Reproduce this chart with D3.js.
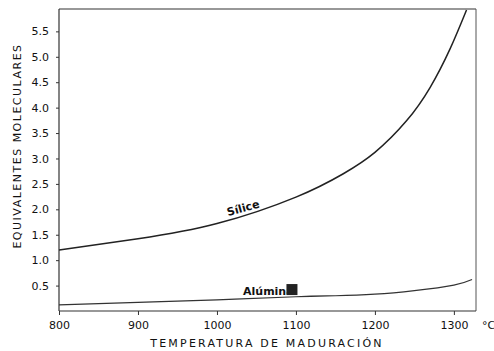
<!DOCTYPE html>
<html>
<head>
<meta charset="utf-8">
<script src="https://cdn.jsdelivr.net/npm/d3@7"></script>
<style>
  body { margin: 0; background: #fff; }
  text { font-family: "DejaVu Sans", sans-serif; fill: #111; }
</style>
</head>
<body>
<svg id="chart" width="494" height="351"></svg>
<script>
// datos
const xTicks = [800, 900, 1000, 1100, 1200, 1300];
const yTicks = [0.5, 1.0, 1.5, 2.0, 2.5, 3.0, 3.5, 4.0, 4.5, 5.0, 5.5];

const siliceTemp = [800, 900, 1000, 1100, 1160, 1200, 1240, 1270, 1295, 1316];
const siliceVal  = [1.20, 1.42, 1.72, 2.24, 2.70, 3.12, 3.74, 4.40, 5.15, 5.92];

const aluminaTemp = [800, 900, 1000, 1100, 1150, 1200, 1250, 1300, 1323];
const aluminaVal  = [0.12, 0.17, 0.22, 0.28, 0.30, 0.33, 0.40, 0.51, 0.62];

const svg = d3.select("#chart");
const margin = { top: 9, right: 18, bottom: 40, left: 59 };

const x = d3.scaleLinear().domain([800, 1328]).range([margin.left, 476]);
const y = d3.scaleLinear().domain([0, 5.94]).range([311, margin.top]);

// marco superior y derecho
svg.append("line")
  .attr("x1", x(800)).attr("x2", x(1328))
  .attr("y1", y(5.94)).attr("y2", y(5.94))
  .attr("stroke", "#333").attr("stroke-width", 1.2);
svg.append("line")
  .attr("x1", x(1328)).attr("x2", x(1328))
  .attr("y1", y(5.94)).attr("y2", y(0))
  .attr("stroke", "#555").attr("stroke-width", 1);

// ejes
const xAxis = svg.append("g")
  .attr("transform", `translate(0,${y(0)})`)
  .call(d3.axisBottom(x).tickValues(xTicks).tickSize(4).tickPadding(6).tickFormat(d3.format("d")));
const yAxis = svg.append("g")
  .attr("transform", `translate(${x(800)},0)`)
  .call(d3.axisLeft(y).tickValues(yTicks).tickSize(3).tickPadding(7).tickFormat(d3.format(".1f")));

[xAxis, yAxis].forEach(g => {
  g.select(".domain").attr("stroke", "#333").attr("stroke-width", 1.2);
  g.selectAll(".tick line").attr("stroke", "#333");
  g.selectAll(".tick text")
    .style("font-family", "DejaVu Sans, sans-serif")
    .style("font-size", "11px").attr("fill", "#111");
});
xAxis.select(".domain").attr("d", `M${x(800)},0H${x(1328)}`);
yAxis.select(".domain").attr("d", `M0,${y(0)}V${y(5.94)}`);

svg.append("text")
  .attr("x", x(1328) + 6).attr("y", y(0) + 18)
  .style("font-size", "11px").text("°C");

// titulos
svg.append("text")
  .attr("x", 267).attr("y", 347)
  .attr("text-anchor", "middle")
  .style("font-size", "11px").style("letter-spacing", "2.2px")
  .text("TEMPERATURA DE MADURACIÓN");

svg.append("text")
  .attr("transform", "translate(21,146) rotate(-90)")
  .attr("text-anchor", "middle")
  .style("font-size", "11px").style("letter-spacing", "1.5px")
  .text("EQUIVALENTES MOLECULARES");

// curvas
const line = d3.line().curve(d3.curveNatural);

svg.append("path")
  .attr("d", line(siliceTemp.map((t, i) => [x(t), y(siliceVal[i])])))
  .attr("fill", "none").attr("stroke", "#222").attr("stroke-width", 1.5);

svg.append("path")
  .attr("d", line(aluminaTemp.map((t, i) => [x(t), y(aluminaVal[i])])))
  .attr("fill", "none").attr("stroke", "#333").attr("stroke-width", 1.2);

// rotulos
svg.append("text")
  .attr("transform", `translate(${x(1014)},${y(1.87)}) rotate(-15)`)
  .style("font-size", "11px").style("font-weight", "bold")
  .text("Sílice");

svg.append("text")
  .attr("x", x(1033)).attr("y", y(0.31))
  .style("font-size", "11px").style("font-weight", "bold")
  .text("Alúmina");
svg.append("rect")
  .attr("x", x(1088)).attr("y", y(0.53))
  .attr("width", 11).attr("height", 11)
  .attr("fill", "#222");
</script>
</body>
</html>
